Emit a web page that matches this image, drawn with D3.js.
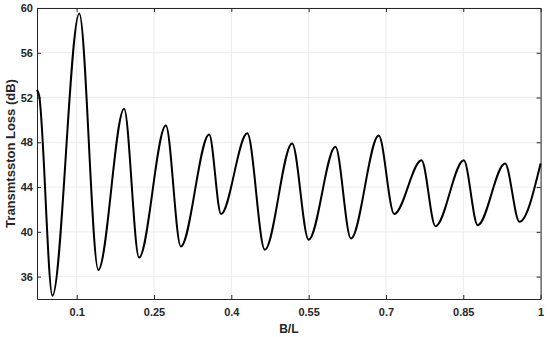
<!DOCTYPE html>
<html>
<head>
<meta charset="utf-8">
<script src="https://cdn.jsdelivr.net/npm/d3@7"></script>
<style>
  body { margin: 0; background: #fff; }
  svg { display: block; font-family: "Liberation Sans", Arial, sans-serif; }
</style>
</head>
<body>
<svg></svg>
<script>
// B/L values and transmission loss (dB) at the turning points
const ratio = [0.023, 0.027, 0.053, 0.105, 0.142, 0.192, 0.221, 0.273, 0.302, 0.357, 0.380, 0.431, 0.465,
               0.518, 0.550, 0.602, 0.632, 0.686, 0.716, 0.769, 0.796, 0.851, 0.878, 0.931, 0.959, 1.0];
const loss  = [52.7, 52.2, 34.3, 59.5, 36.6, 51.0, 37.7, 49.5, 38.7, 48.7, 41.6, 48.8, 38.4,
               47.9, 39.3, 47.6, 39.4, 48.6, 41.6, 46.4, 40.5, 46.4, 40.6, 46.1, 40.9, 46.1];
const xTicks = [0.1, 0.25, 0.4, 0.55, 0.7, 0.85, 1];
const yTicks = [36, 40, 44, 48, 52, 56, 60];

const width = 550, height = 337;
const mLeft = 37, mRight = 540.6, mTop = 8, mBottom = 299;

const svg = d3.select("svg").attr("width", width).attr("height", height);

const x = d3.scaleLinear().domain([0.023, 1]).range([mLeft, mRight]);
const y = d3.scaleLinear().domain([34, 60]).range([mBottom, mTop]);

// grid
svg.append("g").selectAll("line").data(xTicks).enter().append("line")
    .attr("x1", d => x(d)).attr("x2", d => x(d))
    .attr("y1", mTop).attr("y2", mBottom)
    .attr("stroke", "#ebebeb").attr("stroke-width", 1);
svg.append("g").selectAll("line").data(yTicks).enter().append("line")
    .attr("x1", mLeft).attr("x2", mRight)
    .attr("y1", d => y(d)).attr("y2", d => y(d))
    .attr("stroke", "#ebebeb").attr("stroke-width", 1);

// axes with inward ticks, box all round
const fmt = d => d3.format("")(d);
svg.append("g")
    .attr("transform", `translate(0,${mBottom})`)
    .call(d3.axisBottom(x).tickValues(xTicks).tickSizeInner(-4).tickSizeOuter(0).tickPadding(9).tickFormat(fmt));
svg.append("g")
    .attr("transform", `translate(${mLeft},0)`)
    .call(d3.axisLeft(y).tickValues(yTicks).tickSizeInner(-4).tickSizeOuter(0).tickPadding(4));
svg.append("g")
    .attr("transform", `translate(0,${mTop})`)
    .call(d3.axisTop(x).tickValues(xTicks).tickSizeInner(-4).tickSizeOuter(0).tickFormat(""));
svg.append("g")
    .attr("transform", `translate(${mRight},0)`)
    .call(d3.axisRight(y).tickValues(yTicks).tickSizeInner(-4).tickSizeOuter(0).tickFormat(""));

svg.selectAll(".domain").attr("stroke", "#262626");
svg.selectAll(".tick line").attr("stroke", "#262626");
svg.selectAll(".tick text")
    .attr("fill", "#262626")
    .style("font-size", "11px")
    .style("font-weight", "bold")
    .style("font-family", "'Liberation Sans', Arial, sans-serif");

// curve
svg.append("path")
    .datum(ratio.map((r, i) => [r, loss[i]]))
    .attr("fill", "none")
    .attr("stroke", "#000")
    .attr("stroke-width", 2)
    .attr("d", d3.line().x(d => x(d[0])).y(d => y(d[1])).curve(d3.curveMonotoneX));

// labels
svg.append("text")
    .attr("x", (mLeft + mRight) / 2).attr("y", 333)
    .attr("text-anchor", "middle")
    .style("font-size", "12px").style("font-weight", "bold").attr("fill", "#262626")
    .text("B/L");
svg.append("text")
    .attr("transform", `translate(14.5,${(mTop + mBottom) / 2}) rotate(-90)`)
    .attr("text-anchor", "middle")
    .style("font-size", "13px").style("font-weight", "bold").attr("fill", "#262626")
    .text("Transmtsston Loss (dB)");
</script>
</body>
</html>
